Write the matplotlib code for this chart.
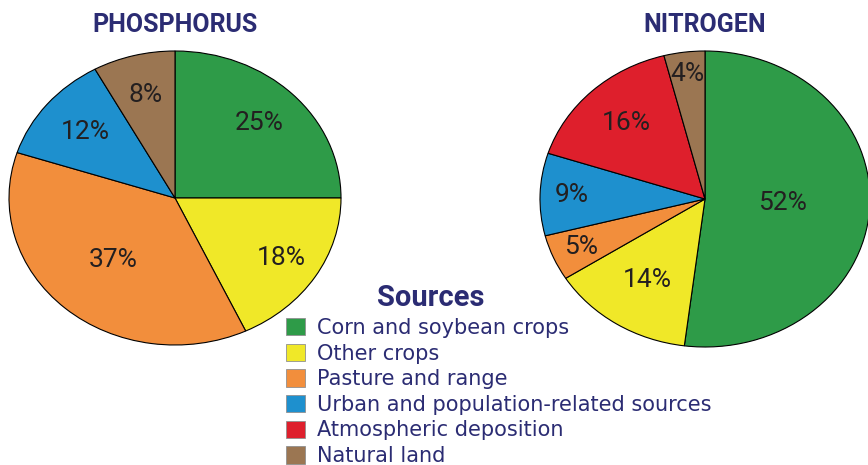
import numpy as np
import matplotlib.pyplot as plt
from matplotlib.patches import Patch

sources = ['Corn and soybean crops', 'Other crops', 'Pasture and range',
           'Urban and population-related sources', 'Atmospheric deposition',
           'Natural land']
colors = ['#2e9b48', '#f0e828', '#f28e3c', '#1e90ce', '#de1f2c', '#9b7652']

# slice order clockwise from 12 o'clock (index into sources)
phos_src = [0, 1, 2, 3, 5]
phos_pct = [25, 18, 37, 12, 8]
nitro_src = [0, 1, 2, 3, 4, 5]
nitro_pct = [52, 14, 5, 9, 16, 4]

W, H = 868, 465
navy = '#2b2c73'

fig = plt.figure(figsize=(W / 100, H / 100), dpi=100)
fig.patch.set_facecolor('white')


def draw_pie(cx, cy, rx, ry, src, pct, dist, title):
    ax = fig.add_axes([(cx - rx) / W, 1 - (cy + ry) / H, 2 * rx / W, 2 * ry / H])
    wedges, _ = ax.pie(pct, colors=[colors[i] for i in src], startangle=90,
                       counterclock=False, radius=1,
                       wedgeprops=dict(edgecolor='black', linewidth=0.8))
    ax.set_aspect('auto')
    ax.set_xlim(-1, 1)
    ax.set_ylim(-1, 1)
    ax.axis('off')
    for w in wedges:
        w.set_clip_on(False)
    for w, p, d in zip(wedges, pct, dist):
        a = np.deg2rad((w.theta1 + w.theta2) / 2)
        ax.text(d * np.cos(a), d * np.sin(a), f'{p}%', ha='center', va='center',
                fontsize=19, color='#231f20', family='Roboto')
    fig.text(cx / W, 1 - 25 / H, title, ha='center', va='center', fontsize=18,
             fontweight='bold', color=navy, family='Roboto')


draw_pie(175, 198, 166, 147, phos_src, phos_pct,
         [0.72, 0.76, 0.56, 0.7, 0.72], 'PHOSPHORUS')
draw_pie(705, 199, 165, 148, nitro_src, nitro_pct,
         [0.47, 0.65, 0.82, 0.81, 0.7, 0.85], 'NITROGEN')

fig.text(431 / W, 1 - 298 / H, 'Sources', ha='center', va='center', fontsize=21,
         fontweight='bold', color=navy, family='Roboto')

handles = [Patch(facecolor=c, edgecolor='#909090', linewidth=0.6) for c in colors]
fig.legend(handles=handles, labels=sources, loc='upper left',
           bbox_to_anchor=(286 / W, 1 - 318 / H), frameon=False, fontsize=15,
           handlelength=0.9, handleheight=0.9, handletextpad=0.6,
           labelspacing=0.27, borderaxespad=0, borderpad=0, labelcolor=navy)

fig.savefig('out.png', dpi=100, facecolor='white')
